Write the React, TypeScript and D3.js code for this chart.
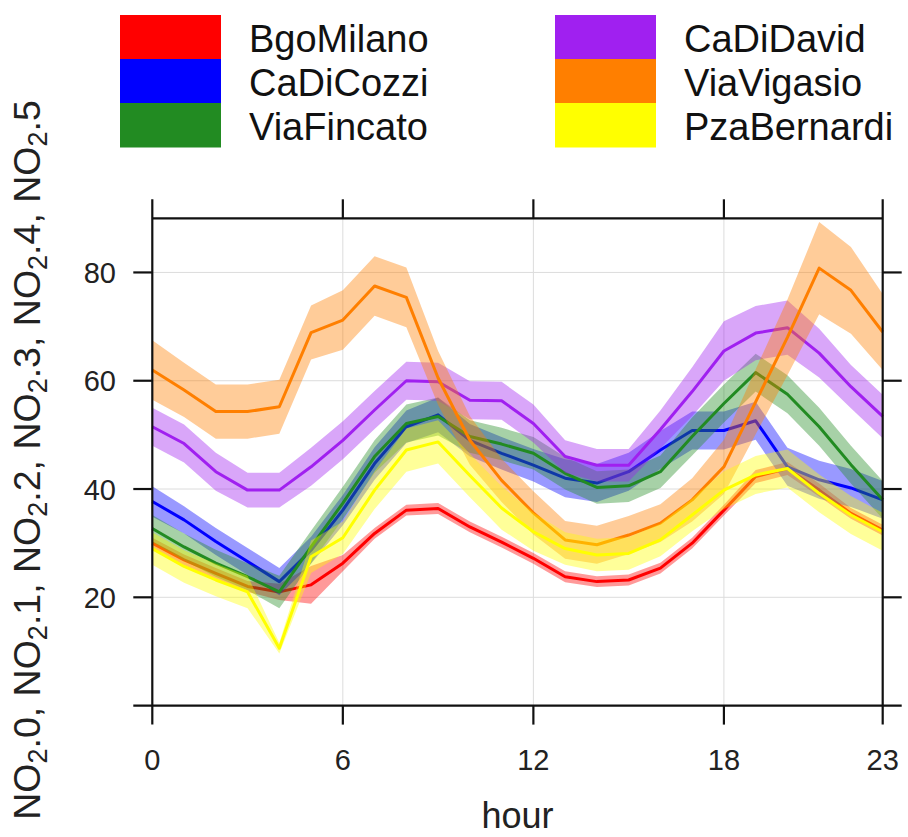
import React from 'react';
import * as d3 from 'd3';

// Hour of day (x axis)
const hours = [0, 1, 2, 3, 4, 5, 6, 7, 8, 9, 10, 11, 12, 13, 14, 15, 16, 17, 18, 19, 20, 21, 22, 23];

// Monitoring sites, in drawing / legend order
const siteNames = ['BgoMilano', 'CaDiCozzi', 'ViaFincato', 'CaDiDavid', 'ViaVigasio', 'PzaBernardi'];
const siteColors = ['#FF0000', '#0000FF', '#228B22', '#A020F0', '#FF7F00', '#FFFF00'];

// Mean NO2 by hour and half-width of the confidence band, per site
const bgoMilano = [30.0, 26.9, 24.4, 22.0, 21.0, 22.3, 26.3, 31.8, 36.1, 36.4, 33.0, 30.2, 27.2, 23.8, 22.9, 23.2, 25.4, 30.0, 36.1, 42.3, 43.8, 39.8, 35.5, 32.4];
const bgoMilanoCi = [1.0, 1.0, 1.0, 1.0, 1.5, 3.5, 1.5, 1.0, 1.0, 1.0, 1.0, 1.0, 1.0, 1.0, 1.0, 1.0, 1.0, 1.0, 1.0, 1.2, 1.2, 1.2, 1.0, 1.0];

const caDiCozzi = [37.7, 34.3, 30.3, 26.6, 22.9, 28.7, 36.1, 44.7, 51.5, 53.7, 49.0, 46.6, 44.4, 42.0, 41.1, 43.2, 47.2, 50.8, 50.8, 52.6, 44.1, 41.7, 40.2, 38.0];
const caDiCozziCi = [2.8, 2.5, 2.5, 2.5, 2.5, 2.5, 2.8, 3.0, 3.0, 3.2, 3.0, 3.0, 3.0, 3.5, 3.5, 3.5, 3.5, 3.5, 3.5, 3.5, 3.5, 3.5, 3.5, 3.5];

const viaFincato = [32.7, 29.3, 26.3, 23.8, 21.0, 29.3, 37.4, 46.0, 52.1, 53.4, 49.7, 48.3, 46.6, 42.9, 40.3, 40.6, 43.2, 49.7, 55.8, 61.5, 57.5, 51.5, 44.5, 38.0];
const viaFincatoCi = [2.5, 2.5, 2.5, 2.5, 3.0, 3.0, 3.0, 3.0, 3.5, 3.5, 3.0, 3.0, 3.0, 3.0, 3.0, 3.0, 3.0, 3.5, 3.5, 3.5, 3.5, 3.5, 3.5, 3.5];

const caDiDavid = [51.5, 48.4, 43.2, 39.8, 39.8, 44.1, 49.0, 54.6, 60.0, 59.8, 56.4, 56.3, 52.1, 46.0, 44.4, 44.4, 51.0, 58.0, 65.5, 68.8, 69.8, 65.1, 58.9, 53.4];
const caDiDavidCi = [3.5, 3.5, 3.5, 3.2, 3.2, 3.5, 3.5, 3.5, 3.5, 3.5, 3.5, 3.5, 3.5, 3.0, 3.0, 3.0, 3.5, 4.5, 5.5, 5.0, 5.0, 4.5, 4.0, 4.0];

const viaVigasio = [62.0, 58.3, 54.3, 54.3, 55.2, 68.9, 71.2, 77.5, 75.4, 60.5, 49.0, 41.6, 35.6, 30.6, 29.7, 31.5, 33.7, 38.0, 44.1, 56.1, 68.0, 80.8, 76.7, 69.0];
const viaVigasioCi = [5.5, 5.0, 5.0, 5.0, 5.0, 5.0, 5.5, 5.5, 5.5, 5.0, 4.5, 4.0, 4.0, 3.5, 3.5, 3.5, 3.5, 4.0, 5.0, 6.0, 7.0, 8.5, 8.0, 7.0];

const pzaBernardi = [29.0, 25.7, 23.2, 21.0, 10.6, 27.5, 31.0, 39.8, 47.2, 48.7, 42.5, 36.5, 32.1, 29.0, 27.8, 28.1, 30.6, 35.2, 39.8, 42.6, 43.8, 39.2, 35.2, 32.1];
const pzaBernardiCi = [3.0, 3.0, 3.0, 3.0, 1.0, 3.0, 3.0, 3.5, 4.0, 4.0, 4.0, 4.0, 3.5, 3.0, 3.0, 3.0, 3.0, 3.0, 3.5, 3.5, 3.5, 3.5, 3.5, 3.5];

const siteMeans = [bgoMilano, caDiCozzi, viaFincato, caDiDavid, viaVigasio, pzaBernardi];
const siteCis = [bgoMilanoCi, caDiCozziCi, viaFincatoCi, caDiDavidCi, viaVigasioCi, pzaBernardiCi];

const xTicks = [0, 6, 12, 18, 23];
const yTicks = [20, 40, 60, 80];
const yLabelParts = ['0', '1', '2', '3', '4', '5'];

const W = 908;
const H = 837;
const FONT = '"Liberation Sans", Arial, sans-serif';

export default function App() {
  const x = d3.scaleLinear().domain([0, 23]).range([152.3, 882.7]);
  const y = d3.scaleLinear().domain([0, 90]).range([705.6, 218.3]);
  const [x0, x1] = x.range();
  const [yb, yt] = y.range();
  const tick = 19;

  return (
    <svg width={W} height={H} style={{ position: 'absolute', left: 0, top: 0, background: '#fff' }} fontFamily={FONT}>
      {/* legend */}
      {siteNames.map((name, i) => {
        const col = Math.floor(i / 3);
        const row = i % 3;
        const rx = col === 0 ? 120 : 555;
        const ry = 15 + row * 44;
        return (
          <g key={name}>
            <rect x={rx} y={ry} width={101} height={44.5} fill={siteColors[i]} />
            <text x={rx + 129} y={ry + 37} fontSize={38} fill="#111">
              {name}
            </text>
          </g>
        );
      })}

      {/* grid */}
      {xTicks.slice(1, -1).map((t) => (
        <line key={'gx' + t} x1={x(t)} x2={x(t)} y1={yt} y2={yb} stroke="#dcdcdc" strokeWidth={1} />
      ))}
      {yTicks.map((t) => (
        <line key={'gy' + t} x1={x0} x2={x1} y1={y(t)} y2={y(t)} stroke="#dcdcdc" strokeWidth={1} />
      ))}

      {/* confidence bands and mean lines */}
      {siteNames.map((name, i) => {
        const mean = siteMeans[i];
        const ci = siteCis[i];
        const area = d3
          .area<number>()
          .x((_, k) => x(hours[k]))
          .y0((d, k) => y(d - ci[k]))
          .y1((d, k) => y(d + ci[k]));
        const line = d3
          .line<number>()
          .x((_, k) => x(hours[k]))
          .y((d) => y(d));
        return (
          <g key={'s' + name}>
            <path d={area(mean) || ''} fill={siteColors[i]} fillOpacity={0.4} stroke="none" />
            <path d={line(mean) || ''} fill="none" stroke={siteColors[i]} strokeWidth={3} strokeLinejoin="round" />
          </g>
        );
      })}

      {/* frame */}
      <g stroke="#111" strokeWidth={2.2}>
        <line x1={x0} x2={x1} y1={yt} y2={yt} />
        <line x1={x0 - tick} x2={x1 + tick} y1={yb} y2={yb} />
        <line x1={x0} x2={x0} y1={yt - tick} y2={yb + tick} />
        <line x1={x1} x2={x1} y1={yt - tick} y2={yb + tick} />
        {xTicks.slice(1, -1).map((t) => (
          <g key={'tx' + t}>
            <line x1={x(t)} x2={x(t)} y1={yb} y2={yb + tick} />
            <line x1={x(t)} x2={x(t)} y1={yt - tick} y2={yt} />
          </g>
        ))}
        {yTicks.map((t) => (
          <g key={'ty' + t}>
            <line x1={x0 - tick} x2={x0} y1={y(t)} y2={y(t)} />
            <line x1={x1} x2={x1 + tick} y1={y(t)} y2={y(t)} />
          </g>
        ))}
      </g>

      {/* tick labels */}
      {xTicks.map((t) => (
        <text key={'lx' + t} x={x(t)} y={770} fontSize={29} textAnchor="middle" fill="#222">
          {t}
        </text>
      ))}
      {yTicks.map((t) => (
        <text key={'ly' + t} x={116} y={y(t) + 10.5} fontSize={29} textAnchor="end" fill="#222">
          {t}
        </text>
      ))}

      {/* axis titles */}
      <text x={(x0 + x1) / 2} y={828} fontSize={36} textAnchor="middle" fill="#222">
        hour
      </text>
      <text transform="translate(40,460) rotate(-90)" fontSize={37.5} textAnchor="middle" fill="#222">
        {yLabelParts.map((p, i) => (
          <React.Fragment key={'yl' + p}>
            <tspan>NO</tspan>
            <tspan dy={7} fontSize={27}>2</tspan>
            <tspan dy={-7}>{'.' + p + (i < yLabelParts.length - 1 ? ', ' : '')}</tspan>
          </React.Fragment>
        ))}
      </text>
    </svg>
  );
}
